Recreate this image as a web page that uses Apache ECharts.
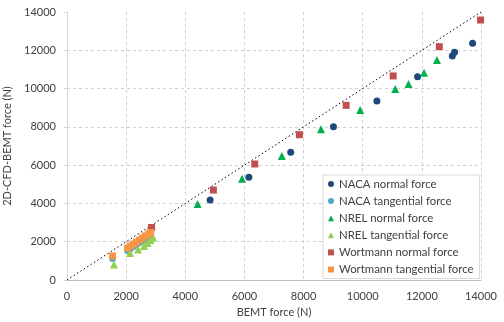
<!DOCTYPE html>
<html>
<head>
<meta charset="utf-8">
<script src="https://cdn.jsdelivr.net/npm/echarts@6/dist/echarts.min.js"></script>
<style>
  html, body { margin: 0; padding: 0; background: #fff; }
  #chart { width: 504px; height: 322px; }
</style>
</head>
<body>
<div id="chart"></div>
<script>
// BEMT force (x) vs 2D-CFD-BEMT force (y), in newtons
const nacaNormal = [
  [4840, 4180], [6150, 5365], [7565, 6670], [9010, 8010], [10480, 9350],
  [11855, 10620], [13030, 11700], [13105, 11895], [13715, 12365]
];
const nacaTangential = [
  [1540, 1125], [2045, 1540], [2150, 1645], [2250, 1750], [2350, 1855],
  [2455, 1960], [2555, 2065], [2655, 2170], [2760, 2275], [2825, 2350]
];
const nrelNormal = [
  [4415, 3970], [5920, 5290], [7265, 6480], [8590, 7875], [9915, 8880],
  [11100, 9980], [11550, 10240], [12075, 10830], [12510, 11490]
];
const nrelTangential = [
  [1590, 810], [2130, 1410], [2405, 1595], [2605, 1775], [2725, 1935],
  [2825, 2090], [2910, 2220]
];
const wortmannNormal = [
  [2860, 2745], [4950, 4700], [6350, 6060], [7860, 7590], [9440, 9125],
  [11030, 10660], [12590, 12190], [13985, 13580]
];
const wortmannTangential = [
  [1540, 1255], [2045, 1670], [2150, 1775], [2250, 1880], [2350, 1985],
  [2455, 2090], [2555, 2195], [2655, 2300], [2760, 2400], [2825, 2480]
];
const equalityLine = [[0, 0], [14000, 14000]];

const seriesNames = [
  'NACA normal force', 'NACA tangential force',
  'NREL normal force', 'NREL tangential force',
  'Wortmann normal force', 'Wortmann tangential force'
];
const seriesData = [nacaNormal, nacaTangential, nrelNormal, nrelTangential, wortmannNormal, wortmannTangential];
const seriesColors = ['#1F497D', '#4BACC6', '#00B050', '#92D050', '#C0504D', '#F79646'];
const seriesSymbols = ['circle', 'circle', 'triangle', 'triangle', 'rect', 'rect'];
const seriesSizes = [7, 7, 8, 8, 7, 7];

const FONT = 'Lato';
const plainNumber = v => String(v);
const chart = echarts.init(document.getElementById('chart'), null, { renderer: 'canvas' });

const scatterSeries = seriesNames.map((name, i) => ({
  name: name,
  type: 'scatter',
  data: seriesData[i],
  symbol: seriesSymbols[i],
  symbolSize: seriesSizes[i],
  itemStyle: { color: seriesColors[i], opacity: 1 },
  z: 3 + i
}));

chart.setOption({
  animation: false,
  backgroundColor: '#fff',
  textStyle: { fontFamily: FONT },
  grid: { left: 67, right: 23, top: 12, bottom: 42, containLabel: false, outerBoundsMode: 'none' },
  xAxis: {
    type: 'value',
    min: 0, max: 14000, interval: 2000,
    name: 'BEMT force (N)',
    nameLocation: 'middle',
    nameGap: 24,
    nameTextStyle: { color: '#404040', fontSize: 11, fontFamily: FONT },
    axisLine: { show: true, lineStyle: { color: '#BFBFBF', width: 1 } },
    axisTick: { show: false },
    axisLabel: { color: '#404040', fontSize: 11, margin: 11, fontFamily: FONT, formatter: plainNumber },
    splitLine: { show: true, lineStyle: { color: '#D0D0D0', type: [3, 3], width: 1 } }
  },
  yAxis: {
    type: 'value',
    min: 0, max: 14000, interval: 2000,
    name: '2D-CFD-BEMT force (N)',
    nameLocation: 'middle',
    nameGap: 36,
    nameTextStyle: { color: '#404040', fontSize: 11, fontFamily: FONT },
    axisLine: { show: true, lineStyle: { color: '#D9D9D9', width: 1 } },
    axisTick: { show: true, length: 3, lineStyle: { color: '#D9D9D9' } },
    axisLabel: { color: '#404040', fontSize: 11, margin: 11, fontFamily: FONT, formatter: plainNumber },
    splitLine: {
      show: true,
      showMaxLine: false,
      lineStyle: { color: '#D0D0D0', type: [3, 3], width: 1 }
    }
  },
  legend: {
    orient: 'vertical',
    left: 323, top: 175,
    padding: [2, 6, 2, 5],
    itemGap: 3.1,
    itemWidth: 6, itemHeight: 6,
    backgroundColor: '#fff',
    borderColor: '#D9D9D9', borderWidth: 1,
    textStyle: { color: '#404040', fontSize: 11.4, lineHeight: 14, fontFamily: FONT },
    data: seriesNames.map((name, i) => ({ name: name, icon: seriesSymbols[i] }))
  },
  series: [
    {
      name: 'equality',
      type: 'line',
      data: equalityLine,
      symbol: 'none',
      silent: true,
      lineStyle: { color: '#000', width: 1, type: [1.5, 2.5] },
      z: 2
    }
  ].concat(scatterSeries)
});
</script>
</body>
</html>
